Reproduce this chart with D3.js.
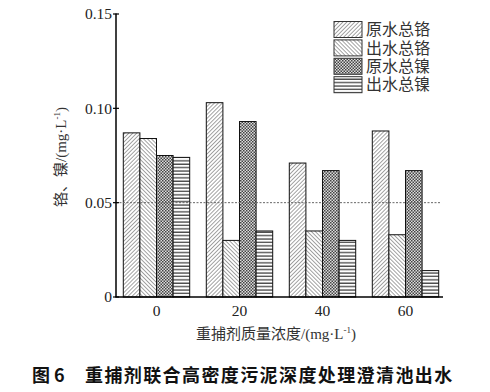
<!DOCTYPE html>
<html><head><meta charset="utf-8">
<script src="https://cdn.jsdelivr.net/npm/d3@7/dist/d3.min.js"></script>
<style>
body{margin:0;background:#fff;}
svg{display:block;}
</style></head>
<body>
<svg id="chart" width="490" height="392"></svg>
<script>
const categories = ["0", "20", "40", "60"];
const seriesNames = ["原水总铬", "出水总铬", "原水总镍", "出水总镍"];
const rawCr = [0.087, 0.103, 0.071, 0.088];
const outCr = [0.084, 0.030, 0.035, 0.033];
const rawNi = [0.075, 0.093, 0.067, 0.067];
const outNi = [0.074, 0.035, 0.030, 0.014];
const yTicks = [0, 0.05, 0.10, 0.15];
const yTickLabels = ["0", "0.05", "0.10", "0.15"];
const refLine = 0.05;

const series = [rawCr, outCr, rawNi, outNi];
const svg = d3.select("#chart");
const serif = "'Liberation Serif','Times New Roman','Noto Sans CJK SC',serif";
const cjk = "'Liberation Serif','Noto Sans CJK SC',sans-serif";

const x0 = 116, yBottom = 297, yTop = 14, xEnd = 443;
const x = d3.scaleBand().domain(categories).range([115, 447]).paddingInner(0.2).paddingOuter(0.1);
const x1 = d3.scaleBand().domain(d3.range(4)).range([0, x.bandwidth()]);
const y = d3.scaleLinear().domain([0, 0.15]).range([yBottom, yTop]);

// patterns
const defs = svg.append("defs");
function hatch(id, angle, gap, sw, col) {
  const p = defs.append("pattern").attr("id", id).attr("patternUnits", "userSpaceOnUse")
    .attr("width", gap).attr("height", gap).attr("patternTransform", `rotate(${angle})`);
  p.append("rect").attr("width", gap).attr("height", gap).attr("fill", "#fff");
  p.append("line").attr("x1", 0).attr("y1", 0).attr("x2", 0).attr("y2", gap)
    .attr("stroke", col).attr("stroke-width", sw);
}
hatch("p0", 45, 2.8, 0.9, "#333");
hatch("p1", -45, 2.8, 0.9, "#333");
{
  const p = defs.append("pattern").attr("id", "p2").attr("patternUnits", "userSpaceOnUse")
    .attr("width", 3).attr("height", 3);
  p.append("rect").attr("width", 3).attr("height", 3).attr("fill", "#ddd");
  p.append("rect").attr("x", 0).attr("y", 0).attr("width", 1.5).attr("height", 1.5).attr("fill", "#444");
  p.append("rect").attr("x", 1.5).attr("y", 1.5).attr("width", 1.5).attr("height", 1.5).attr("fill", "#444");
}
{
  const p = defs.append("pattern").attr("id", "p3").attr("patternUnits", "userSpaceOnUse")
    .attr("width", 4).attr("height", 3.4);
  p.append("rect").attr("width", 4).attr("height", 3.4).attr("fill", "#fff");
  p.append("line").attr("x1", 0).attr("x2", 4).attr("y1", 1).attr("y2", 1)
    .attr("stroke", "#222").attr("stroke-width", 1.1);
}
const fills = ["url(#p0)", "url(#p1)", "url(#p2)", "url(#p3)"];

// bars
categories.forEach((c, i) => {
  series.forEach((s, j) => {
    svg.append("rect")
      .attr("x", x(c) + x1(j)).attr("y", y(s[i]))
      .attr("width", x1.bandwidth()).attr("height", y(0) - y(s[i]))
      .attr("fill", fills[j]).attr("stroke", "#111").attr("stroke-width", 1);
  });
});

// reference dashed line
svg.append("line").attr("x1", x0).attr("x2", 440).attr("y1", y(refLine)).attr("y2", y(refLine))
  .attr("stroke", "#666").attr("stroke-width", 1).attr("stroke-dasharray", "2,1.5");

// axes
svg.append("line").attr("x1", x0).attr("x2", x0).attr("y1", yTop - 0.5).attr("y2", yBottom)
  .attr("stroke", "#000").attr("stroke-width", 1.5);
svg.append("line").attr("x1", x0 - 0.75).attr("x2", xEnd).attr("y1", yBottom).attr("y2", yBottom)
  .attr("stroke", "#000").attr("stroke-width", 1.5);

yTicks.forEach((t, i) => {
  svg.append("line").attr("x1", x0 - 3).attr("x2", x0 + 3).attr("y1", y(t)).attr("y2", y(t))
    .attr("stroke", "#000").attr("stroke-width", 1.2);
  svg.append("text").attr("x", x0 - 4).attr("y", y(t)).attr("dy", "0.35em")
    .attr("text-anchor", "end").attr("font-family", serif).attr("font-size", 15.5)
    .attr("fill", "#222").text(yTickLabels[i]);
});

categories.forEach(c => {
  svg.append("text").attr("x", x(c) + x.bandwidth() / 2).attr("y", 316)
    .attr("text-anchor", "middle").attr("font-family", serif).attr("font-size", 15.5)
    .attr("fill", "#222").text(c);
});

// axis titles
const xt = svg.append("text").attr("x", 276).attr("y", 339).attr("text-anchor", "middle")
  .attr("font-family", cjk).attr("font-size", 15).attr("fill", "#333");
xt.append("tspan").text("重捕剂质量浓度/(mg·L");
xt.append("tspan").attr("font-size", 9).attr("dy", -6).text("-1");
xt.append("tspan").attr("dy", 6).text(")");

const yt = svg.append("text").attr("transform", "translate(66,157) rotate(-90)")
  .attr("text-anchor", "middle").attr("font-family", cjk).attr("font-size", 15).attr("fill", "#333");
yt.append("tspan").text("铬、镍/(mg·L");
yt.append("tspan").attr("font-size", 9).attr("dy", -6).text("-1");
yt.append("tspan").attr("dy", 6).text(")");

// legend
seriesNames.forEach((n, j) => {
  const ly = 21.5 + j * 18.4;
  svg.append("rect").attr("x", 334).attr("y", ly).attr("width", 28).attr("height", 16)
    .attr("fill", fills[j]).attr("stroke", "#333").attr("stroke-width", 1);
  svg.append("text").attr("x", 366).attr("y", ly + 8).attr("dy", "0.36em")
    .attr("font-family", cjk).attr("font-size", 16).attr("fill", "#333").text(n);
});

// caption
svg.append("text").attr("x", 32).attr("y", 382)
  .attr("font-family", "'Noto Sans CJK SC',sans-serif").attr("font-weight", "bold")
  .attr("font-size", 18).attr("fill", "#111")
  .text("图 6");
svg.append("text").attr("x", 85).attr("y", 382)
  .attr("font-family", "'Noto Sans CJK SC',sans-serif").attr("font-weight", "bold")
  .attr("font-size", 18).attr("letter-spacing", 1.4).attr("fill", "#111")
  .text("重捕剂联合高密度污泥深度处理澄清池出水");
</script>
</body></html>
